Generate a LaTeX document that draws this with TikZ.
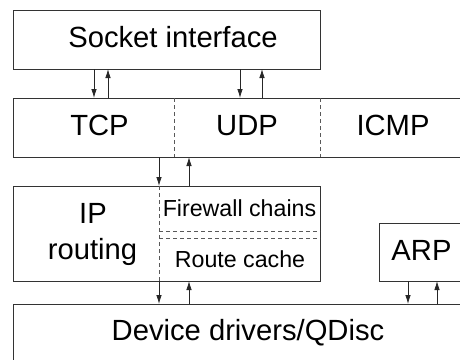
\documentclass[tikz,border=0pt]{standalone}
\usepackage{fontspec}
\setmainfont{Liberation Sans}
\usetikzlibrary{arrows.meta}
\begin{document}
\begin{tikzpicture}[x=1pt,y=-1pt,
  box/.style={draw=black!80,line width=0.8pt,inner sep=0pt,outer sep=0pt,rectangle},
  sep/.style={draw=black!65,line width=0.75pt,dash pattern=on 4pt off 3pt},
  big/.style={font=\fontsize{29.2}{31}\selectfont,anchor=base,inner sep=0pt},
  small/.style={font=\fontsize{23.2}{25}\selectfont,anchor=base,inner sep=0pt},
  arr/.style={draw=black!85,line width=0.8pt,-{Latex[length=9pt,width=5.5pt]}}]
\useasboundingbox (0,0) rectangle (460,359);
\clip (0,0) rectangle (460,359);
% boxes
\node[box,minimum width=307pt,minimum height=59pt] (socket) at (166.5,39.5) {};
\node[box,minimum width=487pt,minimum height=59pt] (tcp) at (256.5,127.5) {};
\node[box,minimum width=307pt,minimum height=95pt] (ip) at (166.5,233.5) {};
\node[box,minimum width=101pt,minimum height=58pt] (arp) at (429.5,252) {};
\node[box,minimum width=487pt,minimum height=80pt] (dev) at (256.5,344) {};
% separators
\draw[sep] (tcp.north -| 174,0) -- (tcp.south -| 174,0);
\draw[sep] (tcp.north -| 320,0) -- (tcp.south -| 320,0);
\draw[sep] (ip.north -| 159,0) -- (ip.south -| 159,0);
\coordinate (fwl) at (159,231);
\coordinate (rcl) at (159,238);
\draw[sep] (fwl) -- (fwl -| ip.east);
\draw[sep] (rcl) -- (rcl -| ip.east);
% texts
\node[big] (tsock) at (173,47) {Socket interface};
\node[big] (ttcp) at (99.5,135) {TCP};
\node[big] (tudp) at (247,135) {UDP};
\node[big] (ticmp) at (393,135) {ICMP};
\node[big] (tip) at (93,223) {IP};
\node[big] (trout) at (92.5,259) {routing};
\node[small] (tfw) at (239.5,216) {Firewall chains};
\node[small] (trc) at (240,267) {Route cache};
\node[big] (tarp) at (421.5,260) {ARP};
\node[big] (tdev) at (248,340) {Device drivers/QDisc};
% arrows
\draw[arr] (socket.south -| 94,0) -- (tcp.north -| 94,0);
\draw[arr] (tcp.north -| 108,0) -- (socket.south -| 108,0);
\draw[arr] (socket.south -| 240,0) -- (tcp.north -| 240,0);
\draw[arr] (tcp.north -| 262,0) -- (socket.south -| 262,0);
\draw[arr] (tcp.south -| 159,0) -- (ip.north -| 159,0);
\draw[arr] (ip.north -| 189,0) -- (tcp.south -| 189,0);
\draw[arr] (ip.south -| 159,0) -- (dev.north -| 159,0);
\draw[arr] (dev.north -| 189,0) -- (ip.south -| 189,0);
\draw[arr] (arp.south -| 408,0) -- (dev.north -| 408,0);
\draw[arr] (dev.north -| 437,0) -- (arp.south -| 437,0);
\end{tikzpicture}
\end{document}
